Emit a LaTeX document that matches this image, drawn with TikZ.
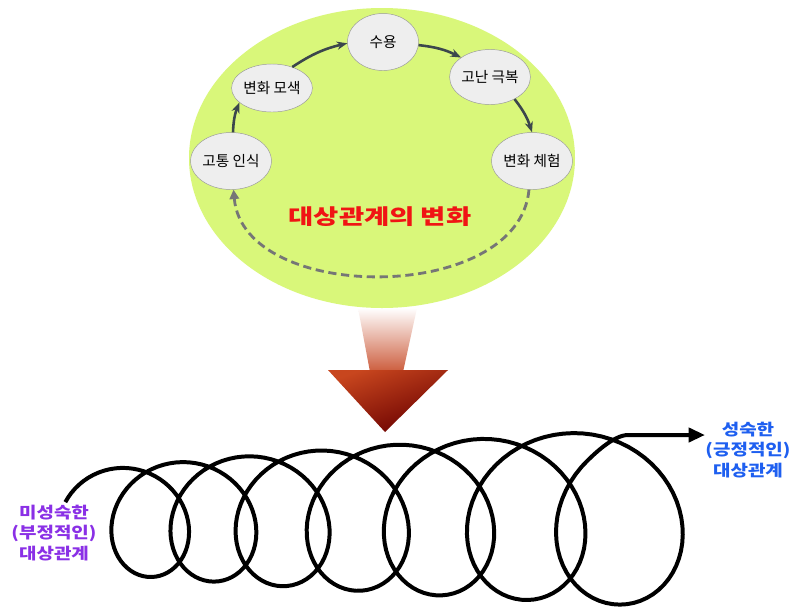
\documentclass[tikz,border=0pt]{standalone}
\usepackage{fontspec}
\setmainfont{Noto Sans CJK KR}
\usetikzlibrary{shapes.geometric,arrows.meta}
\definecolor{ovalgreen}{HTML}{D9F77A}
\definecolor{stagegray}{HTML}{EEEEEE}
\definecolor{arrowgray}{HTML}{3C474C}
\definecolor{dashgray}{HTML}{767676}
\definecolor{titlered}{HTML}{F01414}
\definecolor{immature}{HTML}{8A30E6}
\definecolor{mature}{HTML}{1E5FF0}
\definecolor{headred}{HTML}{C8461E}
\definecolor{headdark}{HTML}{6A0000}
\definecolor{shaftred}{HTML}{CC5C3C}
\begin{document}
\begin{tikzpicture}[x=0.3mm,y=-0.3mm,
  stage/.style={ellipse,draw=black!40,fill=stagegray,inner sep=0pt,font=\fontsize{12.5}{14}\selectfont},
  cyc/.style={-{Stealth[length=9pt,width=7pt]},line width=2.2pt,draw=arrowgray},
  back/.style={-{Triangle[length=8pt,width=8pt]},line width=2.4pt,draw=dashgray,dash pattern=on 7pt off 4pt},
  side/.style={align=center,font=\fontsize{13.5}{17.5}\selectfont\bfseries,xscale=1.2},
  coil/.style={line width=3.4pt,line join=round}]
\useasboundingbox (0,0) rectangle (793,607);
\fill[white] (0,0) rectangle (793,607);
% big arrow
\shade[top color=white,bottom color=shaftred] (358,308) -- (417,308) -- (403,372) -- (370,372) -- cycle;
\shade[top color=headred,bottom color=headdark,shading angle=20] (328,370) -- (448,370) -- (385,432) -- cycle;
% cycle
\fill[ovalgreen] (382,158) ellipse [x radius=193, y radius=150];
\node[stage,minimum width=21.3mm,minimum height=17.1mm] (suyong) at (383,42) {수용};
\node[stage,minimum width=22.8mm,minimum height=14.4mm] (mosaek) at (272,88) {변화 모색};
\node[stage,minimum width=22.2mm,minimum height=16.5mm] (gonan) at (490,77) {고난 극복};
\node[stage,minimum width=22.5mm,minimum height=17.1mm] (gotong) at (231,161) {고통 인식};
\node[stage,minimum width=22.5mm,minimum height=17.1mm] (cheheom) at (532,161) {변화 체험};
\draw[cyc] (gotong.86) to[bend left=10] (mosaek.204);
\draw[cyc] (mosaek.46) to[bend left=10] (suyong.182);
\draw[cyc] (suyong.355) to[bend left=10] (gonan.146);
\draw[cyc] (gonan.318) to[bend left=10] (cheheom.90);
\draw[back] (cheheom.264) to[out=-95,in=-85] (gotong.275);
\node[font=\fontsize{18}{20}\selectfont\bfseries,text=titlered,xscale=1.3] (title) at (380,217) {대상관계의 변화};
% spiral
\coordinate (goal) at (705,435);
\draw[coil,-{Triangle[length=14pt,width=12pt]}] plot[domain=-0.19:6.85,samples=450,variable=\u]
  ({121.9+57.2*\u+3*\u*\u+(50.3+5.5*\u)*sin(360*\u)},{521.3-0.6*\u-(53.4+5.2*\u)*cos(360*\u)})
  .. controls +(12,-13) and +(-14,0) .. (628,435) -- (goal);
\node[side,text=immature] (immaturetext) at (54,533) {미성숙한\\(부정적인)\\대상관계};
\node[side,text=mature] (maturetext) at (748,450) {성숙한\\(긍정적인)\\대상관계};
\end{tikzpicture}
\end{document}
